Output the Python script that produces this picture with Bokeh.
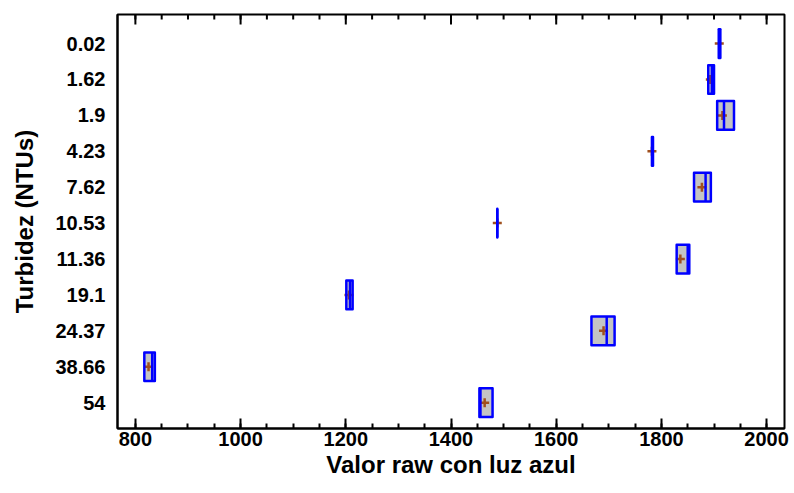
from bokeh.plotting import figure
from bokeh.models import Range1d, FixedTicker, LinearAxis, ColumnDataSource
from bokeh.embed import file_html
from bokeh.resources import INLINE

categories = ["0.02", "1.62", "1.9", "4.23", "7.62", "10.53", "11.36", "19.1", "24.37", "38.66", "54"]
q1     = [1909, 1889, 1906, 1782, 1862, 1488, 1829, 1201, 1667, 817, 1454]
median = [1911, 1896, 1919, 1783, 1884, 1488, 1850, 1208, 1696, 832, 1456]
q3     = [1912, 1900, 1938, 1784, 1894, 1488, 1853, 1213, 1711, 837, 1479]
mean   = [1910, 1893, 1916, 1782, 1877, 1488, 1836, 1206, 1690, 825, 1464]
x_ticks = [800, 1000, 1200, 1400, 1600, 1800, 2000]
x_minor = list(range(750, 2051, 50))

n = len(categories)
ypos = [n - 1 - i for i in range(n)]
half = 0.4
src = ColumnDataSource(dict(
    y=ypos, q1=q1, q3=q3, med=median, mean=mean,
    top=[v + half for v in ypos], bottom=[v - half for v in ypos],
))

FONT = "Liberation Sans"
Y0, Y1 = -0.72, 10.81
X0, X1 = 766, 2034
FRAME_H = 414.0
px = (Y1 - Y0) / FRAME_H  # data units per pixel (vertical)

p = figure(width=794, height=493, output_backend="svg", toolbar_location=None,
           x_range=Range1d(X0, X1), y_range=Range1d(Y0, Y1),
           min_border_left=117, min_border_right=10, min_border_top=14, min_border_bottom=65,
           x_axis_location=None, y_axis_location=None)
p.xgrid.visible = False
p.ygrid.visible = False
p.outline_line_color = "black"
p.outline_line_width = 2
p.outline_line_alpha = 1

xt = FixedTicker(ticks=x_ticks, minor_ticks=x_minor)

xa = LinearAxis(ticker=xt, axis_label="Valor raw con luz azul")
xa.axis_line_width = 2
xa.major_tick_in = 10
xa.major_tick_out = 0
xa.minor_tick_in = 5
xa.minor_tick_out = 0
xa.major_tick_line_width = 2
xa.minor_tick_line_width = 2
xa.major_label_text_font = FONT
xa.major_label_text_font_style = "bold"
xa.major_label_text_font_size = "20px"
xa.major_label_text_color = "black"
xa.major_label_standoff = 3
xa.axis_label_text_font = FONT
xa.axis_label_text_font_style = "bold"
xa.axis_label_text_font_size = "24px"
xa.axis_label_text_color = "black"
xa.axis_label_standoff = 2
p.add_layout(xa, "below")

ya = LinearAxis(ticker=FixedTicker(ticks=ypos, minor_ticks=[]),
                axis_label="Turbidez (NTUs)")
ya.major_label_overrides = {y: c for y, c in zip(ypos, categories)}
ya.axis_line_width = 2
ya.major_tick_in = 0
ya.major_tick_out = 0
ya.major_label_text_font = FONT
ya.major_label_text_font_style = "bold"
ya.major_label_text_font_size = "20px"
ya.major_label_text_color = "black"
ya.major_label_standoff = 12
ya.axis_label_text_font = FONT
ya.axis_label_text_font_style = "bold"
ya.axis_label_text_font_size = "24px"
ya.axis_label_text_color = "black"
ya.axis_label_standoff = 14
p.add_layout(ya, "left")

# ticks along the top edge of the frame (pointing inward)
p.segment(x0=x_ticks, x1=x_ticks, y0=[Y1] * len(x_ticks), y1=[Y1 - 10 * px] * len(x_ticks),
          line_color="black", line_width=2)
p.segment(x0=x_minor, x1=x_minor, y0=[Y1] * len(x_minor), y1=[Y1 - 5 * px] * len(x_minor),
          line_color="black", line_width=2)

# box fill, mean marker, median line, box outline
p.quad(left="q1", right="q3", top="top", bottom="bottom", source=src,
       fill_color="#c4c4c4", line_color=None)
p.scatter(x="mean", y="y", source=src, marker="cross", size=9,
          line_color="#a0501e", line_width=2.5)
p.segment(x0="med", x1="med", y0="bottom", y1="top", source=src,
          line_color="#0000ff", line_width=2.5)
p.quad(left="q1", right="q3", top="top", bottom="bottom", source=src,
       fill_color=None, line_color="#0000ff", line_width=2.5, line_join="round")

open("out.html", "w").write(file_html(p, INLINE))
